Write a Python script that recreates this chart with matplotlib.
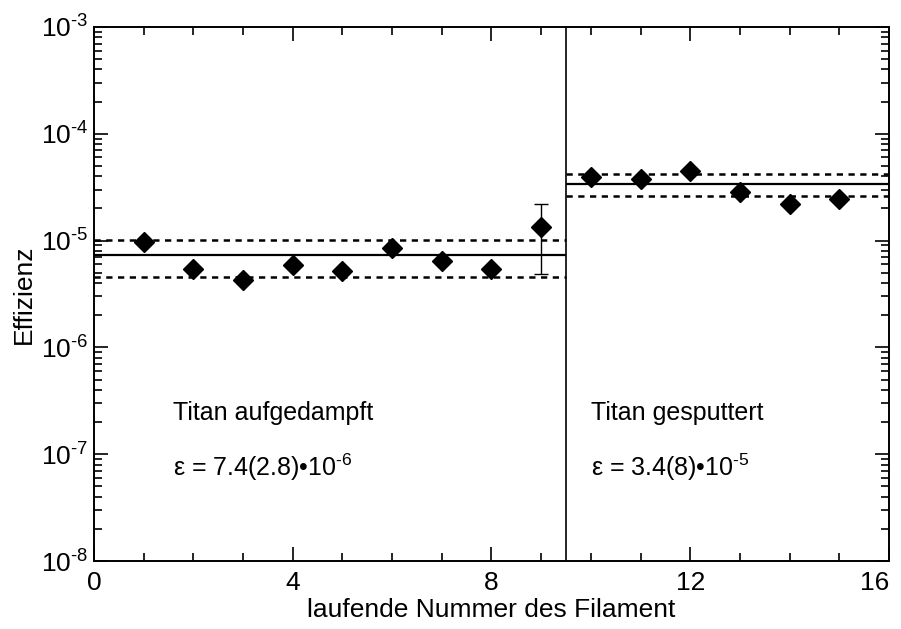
import numpy as np
import matplotlib
matplotlib.use("Agg")
import matplotlib.pyplot as plt
from matplotlib.ticker import LogLocator, MultipleLocator, FuncFormatter

plt.rcParams['font.family'] = ['Liberation Sans', 'DejaVu Sans']
plt.rcParams['mathtext.fontset'] = 'custom'
plt.rcParams['mathtext.rm'] = 'Liberation Sans'
plt.rcParams['mathtext.default'] = 'regular'

# Titan aufgedampft (filament 1-9)
nr_auf = [1, 2, 3, 4, 5, 6, 7, 8, 9]
eff_auf = [9.6e-6, 5.4e-6, 4.3e-6, 5.9e-6, 5.2e-6, 8.6e-6, 6.5e-6, 5.4e-6, 1.33e-5]
err_lo_auf = [0, 0, 0, 0, 0, 0, 0, 0, 1.33e-5 - 4.9e-6]
err_hi_auf = [0, 0, 0, 0, 0, 0, 0, 0, 2.2e-5 - 1.33e-5]
mean_auf, sig_auf = 7.4e-6, 2.8e-6

# Titan gesputtert (filament 10-15)
nr_sput = [10, 11, 12, 13, 14, 15]
eff_sput = [3.95e-5, 3.8e-5, 4.5e-5, 2.86e-5, 2.2e-5, 2.45e-5]
mean_sput, sig_sput = 3.4e-5, 0.8e-5

x_ticks = [0, 4, 8, 12, 16]
grenze = 9.5

fig = plt.figure(figsize=(9.01, 6.29), dpi=100)
ax = fig.add_axes([0.1043, 0.1081, 0.8824, 0.849])

ax.set_yscale('log')
ax.set_xlim(0, 16)
ax.set_ylim(1e-8, 1e-3)

# mean values and 1-sigma bands
ax.hlines(mean_auf, 0, grenze, color='black', lw=1.6)
ax.hlines([mean_auf + sig_auf, mean_auf - sig_auf], 0, grenze, color='black',
          lw=1.8, linestyles=[(0, (2.5, 2.2))])
ax.hlines(mean_sput, grenze, 16, color='black', lw=1.6)
ax.hlines([mean_sput + sig_sput, mean_sput - sig_sput], grenze, 16, color='black',
          lw=1.8, linestyles=[(0, (2.5, 2.2))])
ax.axvline(grenze, color='black', lw=1.2)

ax.errorbar(nr_auf, eff_auf, yerr=[err_lo_auf, err_hi_auf], fmt='D', color='black',
            ms=10, capsize=5, elinewidth=1, capthick=1)
ax.plot(nr_sput, eff_sput, 'D', color='black', ms=10)

ax.text(1.6, 2.1e-7, 'Titan aufgedampft', fontsize=18)
ax.text(1.6, 6.3e-8, 'ε = 7.4(2.8)\u202210$^{\u20106}$', fontsize=18)
ax.text(10.0, 2.1e-7, 'Titan gesputtert', fontsize=18)
ax.text(10.0, 6.3e-8, 'ε = 3.4(8)\u202210$^{\u20105}$', fontsize=18)

ax.set_xticks(x_ticks, [str(t) for t in x_ticks])
ax.xaxis.set_minor_locator(MultipleLocator(1))
ax.yaxis.set_major_locator(LogLocator(base=10, numticks=10))
ax.yaxis.set_minor_locator(LogLocator(base=10, subs=np.arange(2, 10), numticks=20))
ax.yaxis.set_major_formatter(FuncFormatter(
    lambda v, p: '10$^{\u2010%d}$' % abs(round(np.log10(v)))))
ax.tick_params(which='both', direction='in', top=True, right=True, labelsize=19)
ax.tick_params(which='major', length=10, width=1.2)
ax.tick_params(which='minor', length=6, width=1.2)
ax.tick_params(axis='x', pad=7)
ax.tick_params(axis='y', pad=4)
for s in ax.spines.values():
    s.set_linewidth(1.4)

# keep the last x label inside the picture
for tick in ax.xaxis.get_major_ticks():
    if tick.get_loc() == 16:
        tick.label1.set_horizontalalignment('right')

ax.set_xlabel('laufende Nummer des Filament', fontsize=19, labelpad=2)
ax.set_ylabel('Effizienz', fontsize=19, labelpad=4)

fig.savefig('out.png', dpi=100)
